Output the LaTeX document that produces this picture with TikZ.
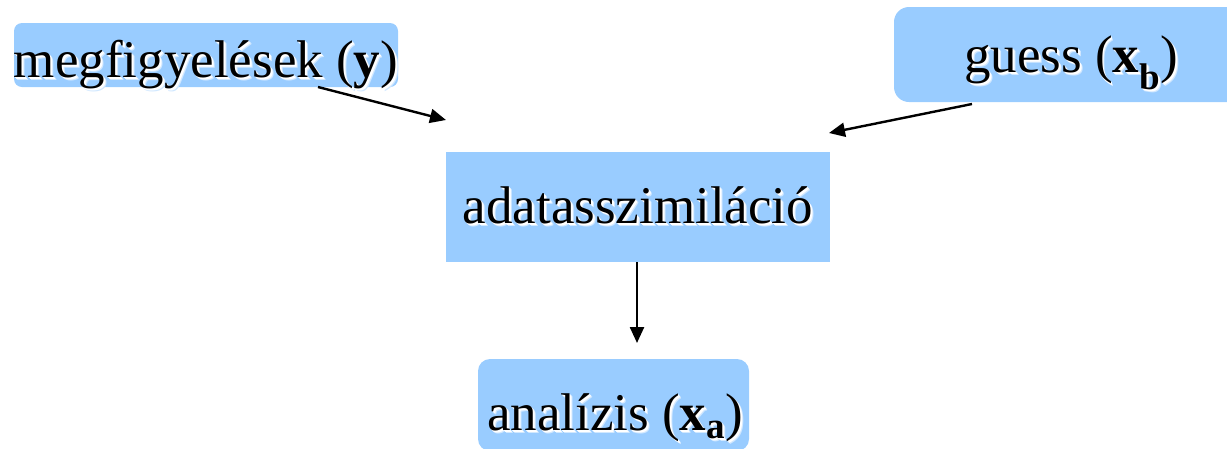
\documentclass[tikz,border=0pt]{standalone}
\usepackage{fontspec}
\setmainfont{Liberation Serif}
\usetikzlibrary{arrows.meta}

\definecolor{boxblue}{HTML}{99CCFF}
\colorlet{halo}{white!55!boxblue}

\tikzset{
  box/.style={fill=boxblue, draw=none, inner sep=0pt},
  txt/.style={inner sep=0pt, anchor=base, font=\fontsize{53}{60}\selectfont},
  arr/.style={line width=2.4pt, -{Triangle[length=16pt,width=14pt]}},
}

% text with a soft white halo below and to the right
\newcommand\haloed[1]{%
  \rlap{\kern3pt\raisebox{-3pt}{\textcolor{halo}{#1}}}%
  \rlap{\kern2pt\raisebox{-2pt}{\textcolor{white}{#1}}}%
  \rlap{\kern1pt\raisebox{-1pt}{\textcolor{white}{#1}}}%
  #1}

\begin{document}
\begin{tikzpicture}[x=1pt, y=-1pt]
  \useasboundingbox (0,0) rectangle (1227,448);
  \clip (0,0) rectangle (1227,448);

  % boxes
  \node[box, rounded corners=8pt, minimum width=384pt, minimum height=64pt] (obs) at (206,55) {};
  \node[box, rounded corners=15pt, minimum width=354pt, minimum height=95pt] (bg) at (1071,54.5) {};
  \node[box, minimum width=384pt, minimum height=110pt] (da) at (638,207) {};
  \node[box, rounded corners=12pt, minimum width=271pt, minimum height=92pt] (an) at (613.5,405) {};

  % labels
  \node[txt] (obstxt) at (206,77) {\haloed{megfigyelések (\textbf{y})}};
  \node[txt] (bgtxt) at (1071,72) {\haloed{guess (\textbf{x\textsubscript{b}})}};
  \node[txt] (datxt) at (638,223) {\haloed{adatasszimiláció}};
  \node[txt] (antxt) at (615,430) {\haloed{analízis (\textbf{x\textsubscript{a}})}};

  % connector end points
  \coordinate (obsout) at (318,87);
  \coordinate (obsin) at (446,120);
  \coordinate (bgout) at (972,104);
  \coordinate (bgin) at (829,133);
  \coordinate (daout) at (637,262);
  \coordinate (anin) at (637,343);

  % connectors
  \draw[arr] (obsout) -- (obsin);
  \draw[arr] (bgout) -- (bgin);
  \draw[arr] (daout) -- (anin);
\end{tikzpicture}
\end{document}
